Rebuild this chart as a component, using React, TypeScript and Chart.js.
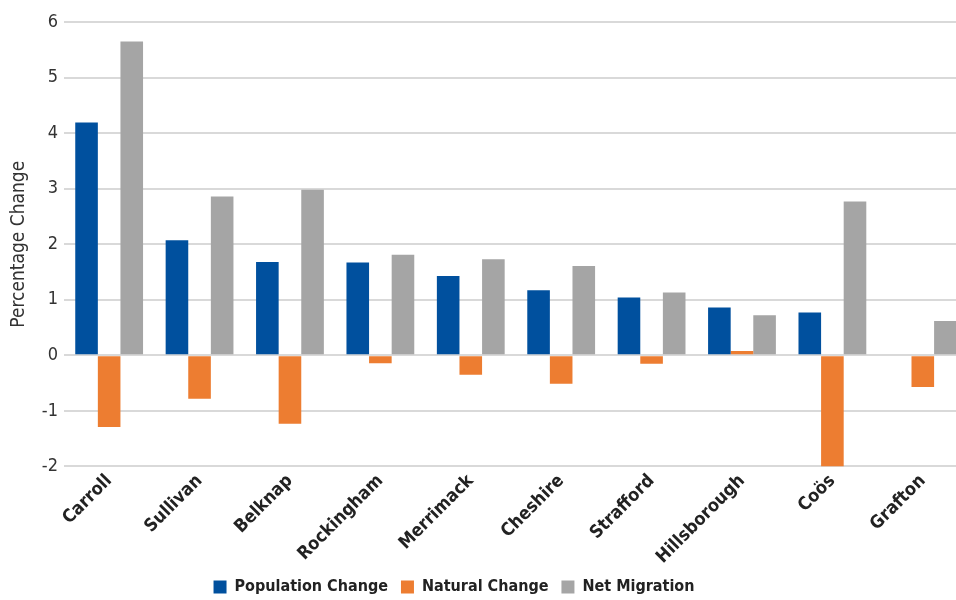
import React, { useEffect, useRef } from "react";
import { Chart, registerables } from "chart.js";

Chart.register(...registerables);

const categories = ["Carroll", "Sullivan", "Belknap", "Rockingham", "Merrimack", "Cheshire", "Strafford", "Hillsborough", "Coös", "Grafton"];
const populationChange = [4.19, 2.07, 1.68, 1.67, 1.43, 1.17, 1.04, 0.86, 0.77, 0.02];
const naturalChange = [-1.29, -0.78, -1.23, -0.14, -0.35, -0.51, -0.15, 0.08, -2.0, -0.57];
const netMigration = [5.65, 2.86, 2.98, 1.81, 1.73, 1.61, 1.13, 0.72, 2.77, 0.62];
const yTicks = [-2, -1, 0, 1, 2, 3, 4, 5, 6];

const NARROW = "'DejaVu Sans Condensed', 'Liberation Sans Narrow', sans-serif";

export default function App() {
  const ref = useRef<HTMLCanvasElement | null>(null);
  useEffect(() => {
    if (!ref.current) return;
    const shiftLegend = {
      id: "shiftLegend",
      afterLayout(chart: any) {
        const lg = chart.legend;
        if (lg) {
          lg.left -= 32;
          lg.right -= 32;
          const h = lg.bottom - lg.top;
          lg.top = 566;
          lg.bottom = 566 + h;
        }
      },
    };
    const chart = new Chart(ref.current, {
      type: "bar",
      data: {
        labels: categories,
        datasets: [
          { label: "Population Change", data: populationChange, backgroundColor: "#00509E", borderWidth: 0 },
          { label: "Natural Change", data: naturalChange, backgroundColor: "#ED7D31", borderWidth: 0 },
          { label: "Net Migration", data: netMigration, backgroundColor: "#A5A5A5", borderWidth: 0 },
        ],
      },
      options: {
        animation: false,
        responsive: false,
        maintainAspectRatio: false,
        datasets: { bar: { categoryPercentage: 0.75, barPercentage: 1.0 } },
        layout: { padding: { top: 22, left: 4, right: 0, bottom: 0 } },
        plugins: {
          tooltip: { enabled: false },
          legend: {
            position: "bottom",
            maxHeight: 28,
            labels: {
              boxWidth: 13,
              boxHeight: 13,
              padding: 13,
              color: "#222",
              font: { family: NARROW, size: 16, weight: "bold" },
            },
          },
        },
        scales: {
          x: {
            grid: { display: false, drawTicks: false },
            border: { display: false },
            ticks: {
              maxRotation: 45,
              minRotation: 45,
              autoSkip: false,
              padding: 4,
              color: "#222",
              font: { family: NARROW, size: 18, weight: "bold" },
            },
          },
          y: {
            min: -2,
            max: 6,
            afterBuildTicks(axis: any) {
              axis.ticks = yTicks.map((v) => ({ value: v }));
            },
            grid: { color: "#D9D9D9", lineWidth: 2, drawTicks: false },
            border: { display: false },
            ticks: {
              padding: 6,
              color: "#333",
              font: { family: NARROW, size: 18 },
            },
            title: {
              display: true,
              text: "Percentage Change",
              color: "#333",
              padding: { top: 4, bottom: 5 },
              font: { family: NARROW, size: 19 },
            },
          },
        },
      },
      plugins: [shiftLegend],
    });
    return () => chart.destroy();
  }, []);
  return (
    <div style={{ position: "fixed", left: 0, top: 0, width: 956, height: 600, overflow: "hidden", background: "#fff" }}>
      <canvas ref={ref} width={968} height={600} style={{ width: 968, height: 600, display: "block" }} />
    </div>
  );
}
